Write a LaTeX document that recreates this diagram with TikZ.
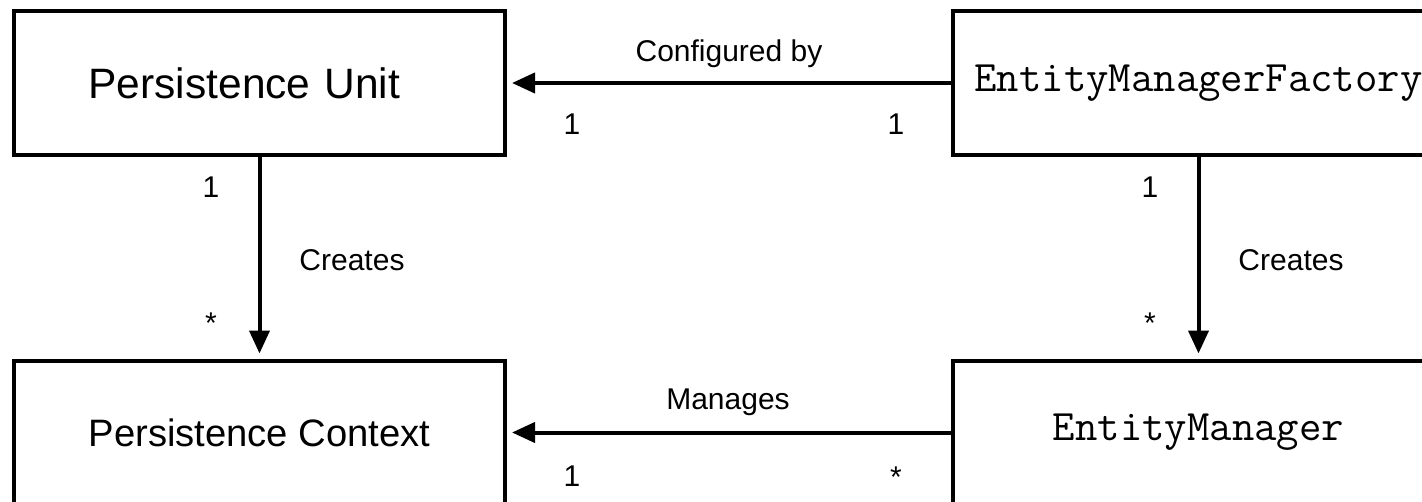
\documentclass[tikz,border=0pt]{standalone}
\usepackage{fontspec}
\setmainfont{Liberation Sans}
\usetikzlibrary{arrows.meta}

\begin{document}
\begin{tikzpicture}[->,>={Triangle[length=23pt,width=20pt]},x=1pt,y=-1pt,line width=4pt,shorten >=5pt,
  entity/.style={draw,-,minimum width=491pt,minimum height=144pt,font=\fontsize{42.5}{50}\selectfont},
  concept/.style={entity,text width=342pt,align=left},
  code/.style={entity,font=\fontsize{43.5}{50}\selectfont\ttfamily},
  mult/.style={anchor=base,font=\fontsize{30}{36}\selectfont}]

\useasboundingbox (0,0) rectangle (1422,501);

\node[concept] (pu)  at (259.5,83)    {Persistence Unit};
\node[entity,font=\fontsize{38.2}{46}\selectfont] (pc) at (259.5,432.5) {Persistence Context};
\node[code]    (emf) at (1198.5,83)    {EntityManagerFactory};
\node[code]    (em)  at (1198.5,432.5) {EntityManager};

% association names and multiplicities
\node[mult] (cfg) at (729,61)   {Configured by};
\node[mult] (m1)  at (572,134)  {1};
\node[mult] (m2)  at (896,134)  {1};
\node[mult] (mng) at (728,409)  {Manages};
\node[mult] (m3)  at (572,486)  {1};
\node[mult] (m4)  at (896,487)  {*};
\node[mult] (m5)  at (211,197)  {1};
\node[mult] (m6)  at (211,333)  {*};
\node[mult] (cr1) at (352,270)  {Creates};
\node[mult] (m7)  at (1150,197) {1};
\node[mult] (m8)  at (1150,333) {*};
\node[mult] (cr2) at (1291,270) {Creates};

\draw (emf) -- (pu);
\draw (pu) -- (pc);
\draw (emf) -- (em);
\draw (em) -- (pc);

\end{tikzpicture}
\end{document}
